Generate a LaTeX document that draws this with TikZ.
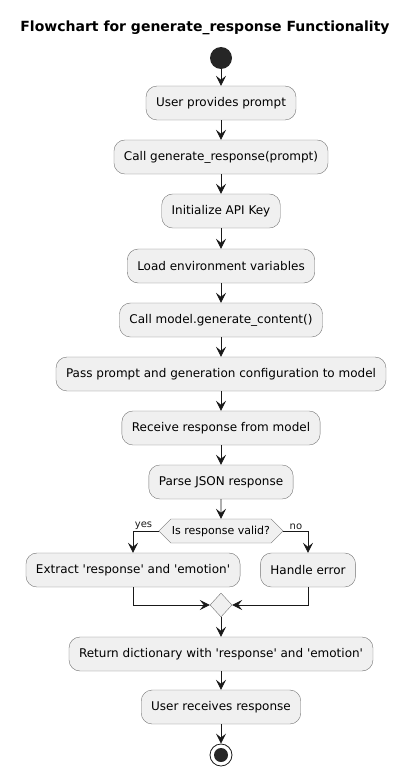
\documentclass[tikz,border=0pt]{standalone}
\usepackage{fontspec}
\setmainfont{DejaVu Sans}
\usetikzlibrary{arrows.meta,shapes.symbols,shapes.geometric}

\begin{document}
\begin{tikzpicture}[x=1pt,y=-1pt,
	act/.style={draw=black!55,fill=black!6,rounded corners=11pt,minimum height=34pt,inner xsep=10pt,font=\fontsize{12}{14}\selectfont},
	test/.style={signal,signal to=west and east,draw=black!55,fill=black!6,minimum height=24pt,inner xsep=1pt,inner ysep=0pt,font=\fontsize{11}{13}\selectfont},
	merge/.style={diamond,draw=black!55,fill=black!6,minimum width=22pt,minimum height=24pt,inner sep=0pt},
	flow/.style={-{Stealth[length=10pt,width=10pt,inset=4pt]},line width=0.8pt,black!90},
	tag/.style={font=\fontsize{10}{11}\selectfont,inner sep=1pt}]
	\useasboundingbox (0,0) rectangle (411,776);
	\node[font=\bfseries\fontsize{14}{16}\selectfont] (title) at (205,28) {Flowchart for generate\_response Functionality};
	\node[circle,fill=black!85,minimum size=22pt,inner sep=0pt] (start) at (221,58) {};
	\node[act] (prompt) at (221,103) {User provides prompt};
	\node[act] (call) at (221,157) {Call generate\_response(prompt)};
	\node[act] (key) at (221,211) {Initialize API Key};
	\node[act] (env) at (221,266) {Load environment variables};
	\node[act] (gen) at (221,320) {Call model.generate\_content()};
	\node[act] (pass) at (221,374) {Pass prompt and generation configuration to model};
	\node[act] (recv) at (221,428) {Receive response from model};
	\node[act] (parse) at (221,482) {Parse JSON response};
	\node[test] (valid) at (221,531) {Is response valid?};
	\node[act] (extract) at (133,570) {Extract \textquotesingle response\textquotesingle{} and \textquotesingle emotion\textquotesingle};
	\node[act] (err) at (308,570) {Handle error};
	\node[merge] (join) at (221,605) {};
	\node[act] (ret) at (221,654) {Return dictionary with \textquotesingle response\textquotesingle{} and \textquotesingle emotion\textquotesingle};
	\node[act] (got) at (221,707) {User receives response};
	\node[circle,draw=black!90,line width=0.8pt,minimum size=22pt,inner sep=0pt] (stop) at (221,755) {};
	\fill[black!85] (stop) circle (7pt);
	% main line
	\draw[flow] (start) -- (prompt);
	\draw[flow] (prompt) -- (call);
	\draw[flow] (call) -- (key);
	\draw[flow] (key) -- (env);
	\draw[flow] (env) -- (gen);
	\draw[flow] (gen) -- (pass);
	\draw[flow] (pass) -- (recv);
	\draw[flow] (recv) -- (parse);
	\draw[flow] (parse) -- (valid);
	% branches
	\draw[flow] (valid.west) -| node[tag,pos=0.1,above left=0pt] {yes} (extract);
	\draw[flow] (valid.east) -| node[tag,pos=0.1,above right=0pt] {no} (err);
	\draw[flow] (extract) |- (join.west);
	\draw[flow] (err) |- (join.east);
	\draw[flow] (join) -- (ret);
	\draw[flow] (ret) -- (got);
	\draw[flow] (got) -- (stop);
\end{tikzpicture}
\end{document}
